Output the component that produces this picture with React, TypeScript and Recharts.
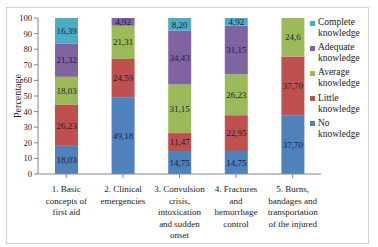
import React from 'react';
import { BarChart, Bar, XAxis, YAxis, LabelList, Legend } from 'recharts';

const categories = [
  '1. Basic\nconcepts of\nfirst aid',
  '2. Clinical\nemergencies',
  '3. Convulsion\ncrisis,\nintoxication\nand sudden\nonset',
  '4. Fractures\nand\nhemorrhage\ncontrol',
  '5. Burns,\nbandages and\ntransportation\nof the injured',
];

const noKnowledge = [18.03, 49.18, 14.75, 14.75, 37.7];
const littleKnowledge = [26.23, 24.59, 11.47, 22.95, 37.7];
const averageKnowledge = [18.03, 21.31, 31.15, 26.23, 24.6];
const adequateKnowledge = [21.32, 4.92, 34.43, 31.15, 0];
const completeKnowledge = [16.39, 0, 8.2, 4.92, 0];

const noLabels = ['18,03', '49,18', '14,75', '14,75', '37,70'];
const littleLabels = ['26,23', '24,59', '11,47', '22,95', '37,70'];
const averageLabels = ['18,03', '21,31', '31,15', '26,23', '24,6'];
const adequateLabels = ['21,32', '4,92', '34,43', '31,15', ''];
const completeLabels = ['16,39', '', '8,20', '4,92', ''];

const yTicks = [0, 10, 20, 30, 40, 50, 60, 70, 80, 90, 100];

const series = [
  { key: 'no', name: 'No knowledge', values: noKnowledge, labels: noLabels, color: '#4F81BD' },
  { key: 'little', name: 'Little knowledge', values: littleKnowledge, labels: littleLabels, color: '#C0504D' },
  { key: 'average', name: 'Average knowledge', values: averageKnowledge, labels: averageLabels, color: '#9BBB59' },
  { key: 'adequate', name: 'Adequate knowledge', values: adequateKnowledge, labels: adequateLabels, color: '#8064A2' },
  { key: 'complete', name: 'Complete knowledge', values: completeKnowledge, labels: completeLabels, color: '#4BACC6' },
];

const data = categories.map((cat, i) => {
  const row: any = { category: cat };
  series.forEach((s) => {
    row[s.key] = s.values[i];
    row[s.key + 'Label'] = s.labels[i];
  });
  return row;
});

const FONT = '"Liberation Serif", "Times New Roman", serif';
const TEXT = '#222222';

const XTick = (props: any) => {
  const { x, y, payload } = props;
  const lines = String(payload.value).split('\n');
  return (
    <text x={x} y={y + 12} textAnchor="middle" fontFamily={FONT} fontSize={9} fill={TEXT}>
      {lines.map((l, i) => (
        <tspan key={i} x={x} dy={i === 0 ? 0 : 11.6}>
          {l}
        </tspan>
      ))}
    </text>
  );
};

const YLabel = (props: any) => {
  const vb = props.viewBox || { y: 18, height: 156 };
  const cy = vb.y + vb.height / 2;
  return (
    <text
      x={17}
      y={cy}
      transform={`rotate(-90, 17, ${cy})`}
      textAnchor="middle"
      dominantBaseline="central"
      fontFamily={FONT}
      fontSize={10}
      fill={TEXT}
    >
      Percentage
    </text>
  );
};

const LegendContent = (props: any) => {
  const payload: any[] = props.payload || [];
  const ordered = series
    .slice()
    .reverse()
    .map((s) => {
      const p = payload.find((q: any) => q.value === s.name);
      return { value: s.name, color: p ? p.color : s.color };
    });
  return (
    <div style={{ fontFamily: FONT, fontSize: 9.5, color: TEXT, lineHeight: '11px' }}>
      {ordered.map((p: any, i: number) => {
        const words = String(p.value).split(' ');
        return (
          <div key={i} style={{ display: 'flex', alignItems: 'flex-start', height: 25.2 }}>
            <div
              style={{ width: 5, height: 5, background: p.color, marginTop: 3.5, marginRight: 3, flex: 'none' }}
            />
            <div>
              <div>{words[0]}</div>
              <div>{words.slice(1).join(' ')}</div>
            </div>
          </div>
        );
      })}
    </div>
  );
};

export default function App() {
  return (
    <div style={{ position: 'absolute', left: 0, top: 0, width: 378, height: 247, background: '#fff' }}>
      <div
        style={{
          position: 'absolute',
          left: 6,
          top: 7,
          width: 363,
          height: 237,
          border: '1px solid #d0d0d0',
          boxSizing: 'border-box',
        }}
      />
      <BarChart
        width={378}
        height={247}
        data={data}
        margin={{ top: 18, right: 57, bottom: 0, left: 0 }}
        barSize={23}
      >
        <XAxis
          dataKey="category"
          interval={0}
          height={73}
          tick={<XTick />}
          tickLine={{ stroke: '#868686' }}
          axisLine={{ stroke: '#868686' }}
          tickSize={4}
        />
        <YAxis
          width={38}
          domain={[0, 100]}
          ticks={yTicks}
          interval={0}
          tickSize={4}
          tickMargin={2}
          tickLine={{ stroke: '#868686' }}
          axisLine={{ stroke: '#868686' }}
          tick={{ fontFamily: FONT, fontSize: 8.5, fill: TEXT }}
          label={<YLabel />}
        />
        <Legend
          layout="vertical"
          align="center"
          verticalAlign="middle"
          content={<LegendContent />}
          wrapperStyle={{ left: 310, top: 17, width: 62, height: 130 }}
        />
        {series.map((s) => (
          <Bar
            key={s.key}
            dataKey={s.key}
            name={s.name}
            stackId="a"
            fill={s.color}
            isAnimationActive={false}
          >
            <LabelList
              dataKey={s.key + 'Label'}
              position="center"
              fontFamily={FONT}
              fontSize={9}
              fill="#1b1b3a"
            />
          </Bar>
        ))}
      </BarChart>
    </div>
  );
}
